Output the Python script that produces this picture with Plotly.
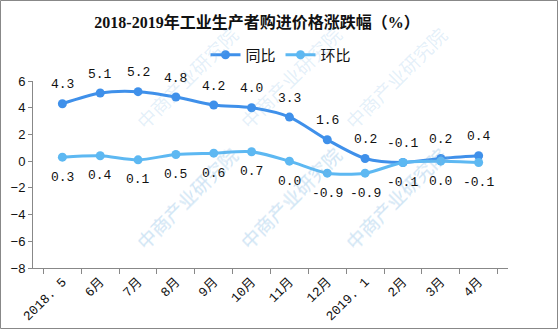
import plotly.graph_objects as go

categories = ["2018. 5", "6月", "7月", "8月", "9月", "10月", "11月", "12月", "2019. 1", "2月", "3月", "4月"]
yoy = [4.3, 5.1, 5.2, 4.8, 4.2, 4.0, 3.3, 1.6, 0.2, -0.1, 0.2, 0.4]
mom = [0.3, 0.4, 0.1, 0.5, 0.6, 0.7, 0.0, -0.9, -0.9, -0.1, 0.0, -0.1]
series_names = ["同比", "环比"]
title_text = "2018-2019年工业生产者购进价格涨跌幅（%）"
y_ticks = [-8, -6, -4, -2, 0, 2, 4, 6]

W, H = 559, 329
L, R, T, B = 33, 51, 81, 61
PW, PH = W - L - R, H - T - B

C1 = "#3f90ea"
C2 = "#5db8f2"
mono = "Liberation Mono, Noto Sans CJK SC, monospace"

def px_to_paper(px, py):
    return (px - L) / PW, (H - B - py) / PH

fig = go.Figure()
fig.add_trace(go.Scatter(x=categories, y=yoy, name=series_names[0], mode="lines+markers",
                         line=dict(color=C1, width=3, shape="spline", smoothing=0.8),
                         marker=dict(color=C1, size=9)))
fig.add_trace(go.Scatter(x=categories, y=mom, name=series_names[1], mode="lines+markers",
                         line=dict(color=C2, width=3, shape="spline", smoothing=0.8),
                         marker=dict(color=C2, size=9)))

annotations = []
# watermark (decoration)
for wy in [18, 138, 258]:
    for wx in [127, 290, 455]:
        xp, yp = px_to_paper(wx, wy)
        annotations.append(dict(x=xp, y=yp, xref="paper", yref="paper", text="中商产业研究院",
                                showarrow=False, textangle=-45,
                                font=dict(size=19, color="rgba(120,180,225,0.2)",
                                          family="Noto Sans CJK SC")))
for c, v in zip(categories, yoy):
    annotations.append(dict(x=c, y=v, text=f"{v:.1f}", showarrow=False, yshift=19,
                            font=dict(size=13, color="#111", family=mono)))
for c, v in zip(categories, mom):
    annotations.append(dict(x=c, y=v, text=f"{v:.1f}", showarrow=False, yshift=-20,
                            font=dict(size=13, color="#111", family=mono)))

lx, ly = px_to_paper(281, 55)
bx0, by0 = px_to_paper(0.5, H - 0.5)
bx1, by1 = px_to_paper(W - 1.5, 0.5)

fig.update_layout(
    width=W, height=H,
    margin=dict(l=L, r=R, t=T, b=B, autoexpand=False),
    paper_bgcolor="white", plot_bgcolor="white",
    title=dict(text=title_text, x=257 / W, xanchor="center", y=1 - 22 / H, yanchor="middle",
               xref="container", yref="container",
               font=dict(size=16, color="#111", family="Liberation Serif, Noto Sans CJK SC", weight="bold")),
    legend=dict(orientation="h", x=lx, y=ly, xanchor="center", yanchor="middle",
                font=dict(size=15, color="#111", family="Noto Sans CJK SC"),
                bgcolor="rgba(0,0,0,0)", itemwidth=30),
    showlegend=True,
    xaxis=dict(type="category", showline=True, linecolor="#888", linewidth=1, automargin=False,
               ticks="outside", tickson="boundaries", ticklen=5, tickcolor="#888",
               tickangle=-45, showgrid=False, zeroline=False,
               tickfont=dict(size=13, color="#111", family=mono)),
    yaxis=dict(range=[-8, 6], tickvals=y_ticks, showline=True, linecolor="#888", linewidth=1,
               automargin=False,
               ticks="outside", ticklen=4, tickcolor="#888", showgrid=False, zeroline=False,
               tickfont=dict(size=13, color="#111", family="Liberation Sans, Arial")),
    annotations=annotations,
    shapes=[dict(type="rect", xref="paper", yref="paper", x0=bx0, y0=by0, x1=bx1, y1=by1,
                 line=dict(color="#888", width=1), layer="below")],
)

fig.write_html("out.html")
